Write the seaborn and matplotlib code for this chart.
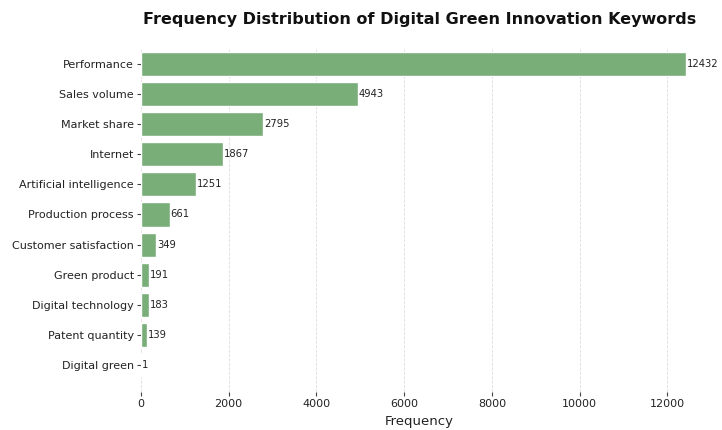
import matplotlib
matplotlib.use("Agg")
import matplotlib.pyplot as plt
import seaborn as sns
import pandas as pd

keywords = ["Performance", "Sales volume", "Market share", "Internet",
            "Artificial intelligence", "Production process", "Customer satisfaction",
            "Green product", "Digital technology", "Patent quantity", "Digital green"]
frequencies = [12432, 4943, 2795, 1867, 1251, 661, 349, 191, 183, 139, 1]

df = pd.DataFrame({"Keyword": keywords, "Frequency": frequencies})

sns.set_style("whitegrid")
plt.rcParams['font.family'] = ['DejaVu Sans']

fig = plt.figure(figsize=(7.22, 4.30), dpi=100)
ax = fig.add_axes([0.195, 1 - 392 / 430, 0.772, (392 - 49) / 430])
sns.barplot(data=df, x="Frequency", y="Keyword", color="#79ae79", saturation=1, ax=ax)

for i, v in enumerate(frequencies):
    ax.text(v + 20, i, f"{v}", va="center", ha="left", fontsize=7.2, color="#222222")

ax.set_xlim(0, 12700)
ax.set_ylim(10.9, -0.5)
ax.set_ylabel("")
ax.set_xlabel("Frequency", fontsize=9.5, color="#222222", labelpad=4)
ax.set_title("Frequency Distribution of Digital Green Innovation Keywords",
             fontsize=11.5, fontweight="bold", pad=18, color="#111111")
for s in ax.spines.values():
    s.set_visible(False)
ax.grid(axis="y", visible=False)
ax.grid(axis="x", linestyle="--", color="#dddddd", linewidth=0.6)
ax.tick_params(axis="both", labelsize=8, length=3, pad=2, color="#444444", colors="#222222")
ax.tick_params(left=True, bottom=True)
ax.set_xticks([0, 2000, 4000, 6000, 8000, 10000, 12000])

fig.savefig("out.png", dpi=100)
